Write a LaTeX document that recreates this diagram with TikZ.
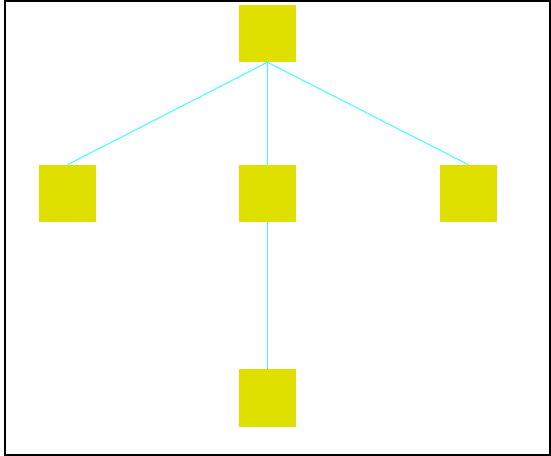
\documentclass[tikz,border=0pt]{standalone}
\definecolor{boxyellow}{HTML}{E0E000}
\definecolor{edgecyan}{HTML}{40FFFF}
\tikzset{
  sq/.style={fill=boxyellow, draw=none, minimum width=57.5*0.75pt, minimum height=57.5*0.75pt, inner sep=0pt, outer sep=0pt},
  edge/.style={draw=edgecyan, line width=0.75pt}
}
\begin{document}
\begin{tikzpicture}[x=0.75pt, y=-0.75pt]
\useasboundingbox (0,0) rectangle (551,456);
\draw[line width=1.5pt] (5,1) rectangle (550,455);
\node[sq] (top) at (267.5,33.5) {};
\node[sq] (left) at (67.5,193.5) {};
\node[sq] (mid) at (267.5,193.5) {};
\node[sq] (right) at (468.5,193.5) {};
\node[sq] (bot) at (267.5,398) {};
\draw[edge] (top.south) -- (left.north);
\draw[edge] (top.south) -- (mid.north);
\draw[edge] (top.south) -- (right.north);
\draw[edge] (mid.south) -- (bot.north);
\end{tikzpicture}
\end{document}
